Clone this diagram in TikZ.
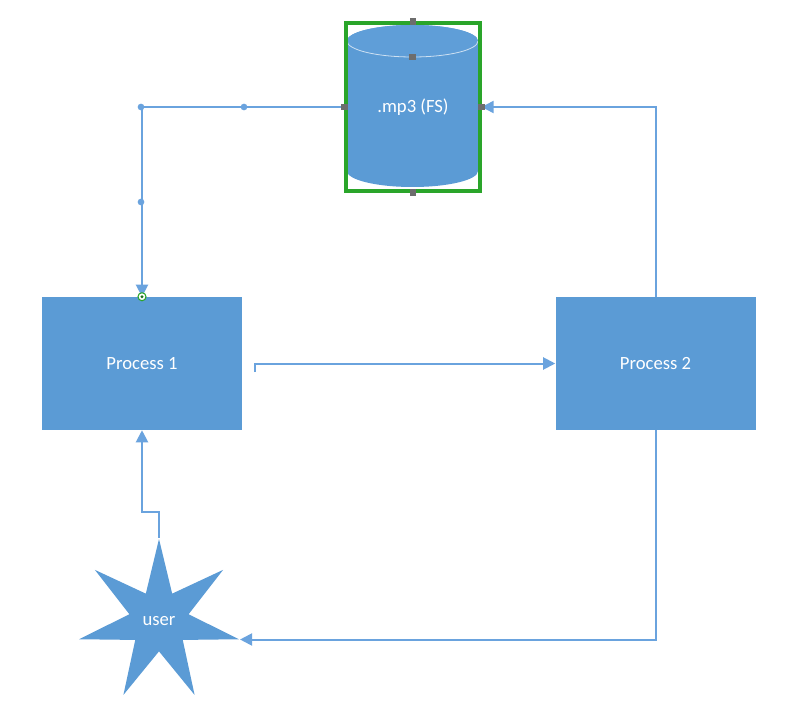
\documentclass[tikz,border=0pt]{standalone}
\usepackage{fontspec}
\setmainfont{Carlito}
\usetikzlibrary{arrows.meta,shapes.geometric}
\definecolor{boxblue}{HTML}{5B9BD5}
\definecolor{topblue}{HTML}{5F9ED8}
\definecolor{lineblue}{HTML}{6AA3DE}
\definecolor{selgreen}{HTML}{2AA52A}
\definecolor{handlegray}{HTML}{6D6D6D}
\tikzset{
  procbox/.style={rectangle, fill=boxblue, draw=none, minimum width=150pt, minimum height=99.75pt, inner sep=0pt, text=white, font=\fontsize{14}{16}\selectfont},
  conn/.style={draw=lineblue, line width=1.5pt, -{Triangle[length=9pt,width=9pt]}},
  handle/.style={rectangle, fill=handlegray, minimum size=5pt, inner sep=0pt},
  bluedot/.style={circle, fill=lineblue, minimum size=5pt, inner sep=0pt},
  userstar/.style={star, star points=7, star point ratio=2.7, fill=boxblue, draw=none, minimum size=123pt, inner sep=0pt, text=white, font=\fontsize{14}{16}\selectfont}
}
\begin{document}
\begin{tikzpicture}[x=0.75pt,y=-0.75pt]
\useasboundingbox (0,0) rectangle (790,717);
\fill[white] (0,0) rectangle (790,717);
% cylinder
\fill[boxblue] (347,41) -- (347,171) arc[start angle=180,end angle=0,x radius=65.5,y radius=16] -- (478,41) arc[start angle=0,end angle=-180,x radius=65.5,y radius=16] -- cycle;
\fill[topblue] (412.5,41) ellipse[x radius=65.5,y radius=16];
\draw[white,opacity=0.7,line width=0.6pt] (347,41) arc[start angle=180,end angle=0,x radius=65.5,y radius=16];
\node[rectangle, draw=selgreen, line width=2.4pt, minimum width=100.5pt, minimum height=126pt, inner sep=0pt, text=white, font=\fontsize{14}{16}\selectfont] (db) at (413,107) {.mp3 (FS)};
% processes
\node[procbox] (p1) at (142,363.5) {Process 1};
\node[procbox] (p2) at (655.5,363.5) {Process 2};
% star
\node[userstar] (user) at (159,621) {user};
% connectors
\draw[conn] (db.west) -| (p1.north);
\coordinate (m0) at (255,372);
\draw[conn] (m0) |- (p2.west);
\draw[conn] (p2.north) |- (db.east);
\draw[conn] (p2.south) |- (user.outer point 6);
\draw[conn] (user.outer point 1) -- ++(0,-26) -| (p1.south);
% selection dots
\node[bluedot] at (141,107) {};
\node[bluedot] at (244,107) {};
\node[bluedot] at (141,202) {};
\node[circle, fill=white, draw=selgreen, line width=0.8pt, minimum size=6pt, inner sep=0pt] at (p1.north) {};
\node[circle, fill=selgreen!70!black, minimum size=2.5pt, inner sep=0pt] at (p1.north) {};
% handles
\node[handle] at (db.north) {};
\node[handle] at (412.5,57) {};
\node[handle] at (db.west) {};
\node[handle] at (db.east) {};
\node[handle] at (db.south) {};
\end{tikzpicture}
\end{document}
